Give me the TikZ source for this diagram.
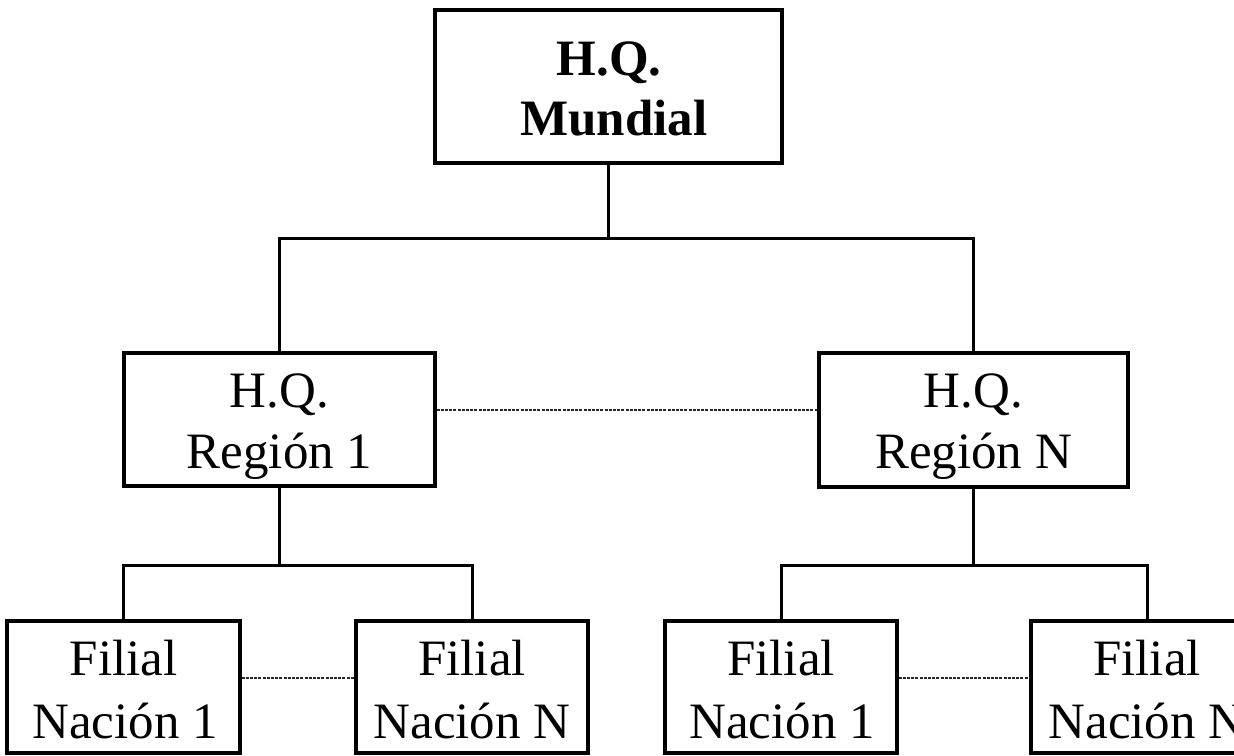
\documentclass[tikz,border=0pt]{standalone}
\usepackage{fontspec}
\setmainfont{Liberation Serif}
\begin{document}
\begin{tikzpicture}[x=1pt,y=-1pt,
  unitbox/.style={draw, line width=3.2pt, inner sep=0pt},
  link/.style={line width=3pt},
  peer/.style={line width=1.4pt, black!85, dash pattern=on 3pt off 1.2pt},
  lbl/.style={inner sep=0pt, anchor=base, font=\fontsize{51}{61}\selectfont}]
\useasboundingbox (0,0) rectangle (1234,755);
\clip (0,0) rectangle (1234,755);

% organisation units
\node[unitbox, minimum width=347, minimum height=153] (hq) at (608.5,86.5) {};
\node[unitbox, minimum width=311, minimum height=133] (r1) at (279.5,419.5) {};
\node[unitbox, minimum width=309, minimum height=134] (rN) at (973.5,420) {};
\node[unitbox, minimum width=233, minimum height=132] (f1) at (123.5,687) {};
\node[unitbox, minimum width=232, minimum height=132] (f2) at (472,687) {};
\node[unitbox, minimum width=232, minimum height=132] (f3) at (781,687) {};
\node[unitbox, minimum width=232, minimum height=132] (f4) at (1147,687) {};

% labels
\node[lbl] (hqA) at (609,75) {\bfseries H.Q.};
\node[lbl] (hqB) at (614,135) {\bfseries Mundial};
\node[lbl] (r1A) at (279.5,407) {H.Q.};
\node[lbl] (r1B) at (279.5,468) {Región 1};
\node[lbl] (rNA) at (973.5,407) {H.Q.};
\node[lbl] (rNB) at (973.5,468) {Región N};
\node[lbl] (f1A) at (123.5,675) {Filial};
\node[lbl] (f1B) at (125,738) {Nación 1};
\node[lbl] (f2A) at (472,675) {Filial};
\node[lbl] (f2B) at (472,738) {Nación N};
\node[lbl] (f3A) at (781,675) {Filial};
\node[lbl] (f3B) at (782,738) {Nación 1};
\node[lbl] (f4A) at (1147,675) {Filial};
\node[lbl] (f4B) at (1147,738) {Nación N};

% bus levels
\coordinate (busTop) at (0,238);
\coordinate (busLow) at (0,565);
\coordinate (peerUp) at (0,410);
\coordinate (peerLow) at (0,678);

% reporting lines
\draw[link] (hq.south) -- (hq.south |- busTop);
\draw[link] (r1.north) |- (rN.north |- busTop) -- (rN.north);
\draw[link] (r1.south) -- (r1.south |- busLow);
\draw[link] (f1.north) |- (f2.north |- busLow) -- (f2.north);
\draw[link] (rN.south) -- (rN.south |- busLow);
\draw[link] (f3.north) |- (f4.north |- busLow) -- (f4.north);

% peer links
\draw[peer] (r1.east |- peerUp) -- (rN.west |- peerUp);
\draw[peer] (f1.east |- peerLow) -- (f2.west |- peerLow);
\draw[peer] (f3.east |- peerLow) -- (f4.west |- peerLow);
\end{tikzpicture}
\end{document}
